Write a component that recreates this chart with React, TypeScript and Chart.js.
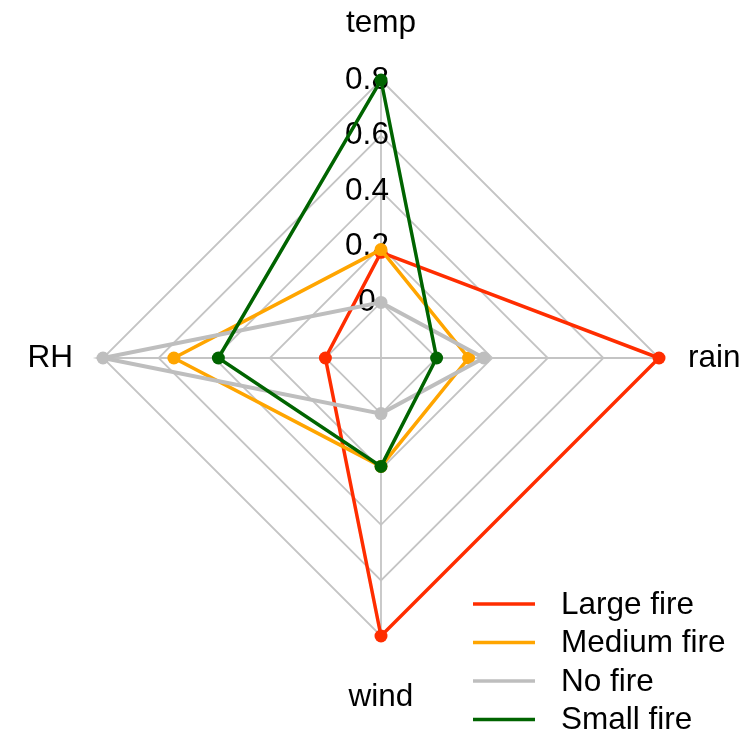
import React, { useEffect, useRef } from "react";
import { Chart, registerables } from "chart.js";

Chart.register(...registerables);

const categories = ["temp", "rain", "wind", "RH"];
const seriesNames = ["Large fire", "Medium fire", "No fire", "Small fire"];
const largeFire = [0.18, 0.8, 0.8, 0.0];
const mediumFire = [0.19, 0.115, 0.19, 0.545];
const noFire = [0.0, 0.17, 0.0, 0.8];
const smallFire = [0.8, 0.0, 0.19, 0.385];
const seriesColors = ["#FF2D00", "#FFA500", "#BEBEBE", "#006400"];
const tickValues = [0, 0.2, 0.4, 0.6, 0.8];
const tickLabels = ["0", "0.2", "0.4", "0.6", "0.8"];

const FONT = '31.5px "Liberation Sans", Arial, sans-serif';

const overlayPlugin = {
  id: "overlay",
  beforeDatasetsDraw(chart: any) {
    const s = chart.scales.r;
    const ctx = chart.ctx;
    ctx.save();
    ctx.font = FONT;
    ctx.fillStyle = "#000000";
    ctx.textAlign = "center";
    ctx.textBaseline = "middle";
    tickValues.forEach((v, i) => {
      const d = s.getDistanceFromCenterForValue(v);
      ctx.fillText(tickLabels[i], s.xCenter - 14, s.yCenter - d);
    });
    const extra = [57, 29, 61, 30];
    const aligns = ["center", "left", "center", "right"];
    categories.forEach((c, i) => {
      const p = s.getPointPosition(i, s.drawingArea + extra[i]);
      ctx.textAlign = aligns[i];
      ctx.fillText(c, p.x, p.y);
    });
    ctx.restore();
  },
  afterDraw(chart: any) {
    const ctx = chart.ctx;
    ctx.save();
    ctx.font = FONT;
    ctx.textAlign = "left";
    ctx.textBaseline = "middle";
    const x0 = 473;
    const x1 = 535;
    const y0 = 604;
    const dy = 38.5;
    seriesNames.forEach((n, i) => {
      const y = y0 + i * dy;
      ctx.strokeStyle = seriesColors[i];
      ctx.lineWidth = 3.5;
      ctx.beginPath();
      ctx.moveTo(x0, y);
      ctx.lineTo(x1, y);
      ctx.stroke();
      ctx.fillStyle = "#000000";
      ctx.fillText(n, 561, y + 1);
    });
    ctx.restore();
  },
};

export default function App() {
  const ref = useRef<HTMLCanvasElement | null>(null);
  useEffect(() => {
    if (!ref.current) return;
    const all = [largeFire, mediumFire, noFire, smallFire];
    const chart = new Chart(ref.current, {
      type: "radar",
      data: {
        labels: categories,
        datasets: all.map((d, i) => ({
          label: seriesNames[i],
          data: d,
          borderColor: seriesColors[i],
          backgroundColor: seriesColors[i],
          pointBackgroundColor: seriesColors[i],
          pointBorderColor: seriesColors[i],
          borderWidth: i === 2 ? 4 : 3.5,
          pointRadius: 6.5,
          pointBorderWidth: 0,
          fill: false,
          tension: 0,
          order: 3 - i,
        })),
      },
      options: {
        animation: false,
        responsive: false,
        maintainAspectRatio: false,
        layout: { padding: { left: 103, right: 97, top: 80, bottom: 97 } },
        plugins: {
          legend: { display: false },
          tooltip: { enabled: false },
        },
        scales: {
          r: {
            min: -0.2,
            max: 0.8,
            ticks: { display: false, stepSize: 0.2 },
            grid: { color: "#C4C4C4", lineWidth: 1.8 },
            angleLines: { color: "#C4C4C4", lineWidth: 1.8 },
            pointLabels: { display: false },
          },
        },
      },
      plugins: [overlayPlugin],
    });
    return () => chart.destroy();
  }, []);
  return (
    <div style={{ position: "absolute", left: 0, top: 0, width: 756, height: 733, background: "#fff" }}>
      <canvas ref={ref} width={756} height={733} style={{ display: "block" }} />
    </div>
  );
}
